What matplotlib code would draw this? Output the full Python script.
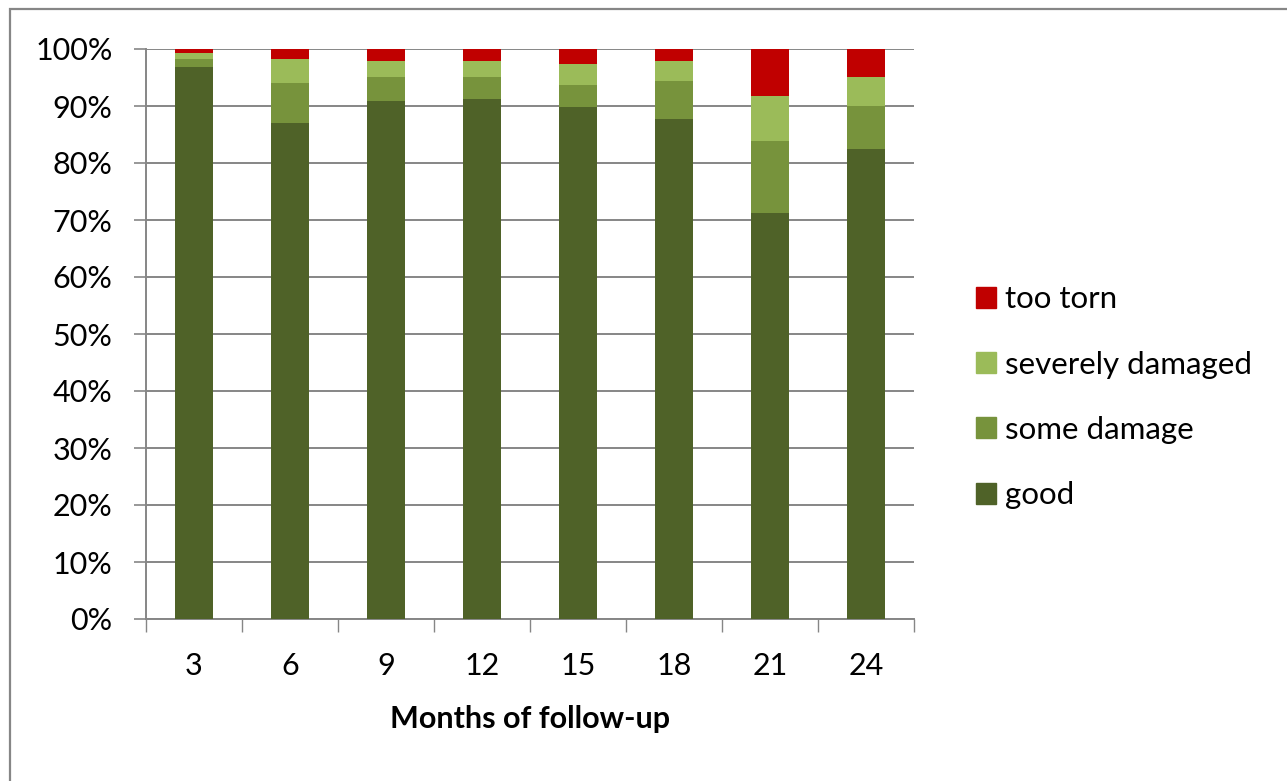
import numpy as np
import matplotlib.pyplot as plt
from matplotlib.patches import Rectangle, Patch
from matplotlib.ticker import FuncFormatter

plt.rcParams['font.family'] = ['Lato', 'DejaVu Sans']

months = ['3', '6', '9', '12', '15', '18', '21', '24']
good = [96.9, 87.1, 90.9, 91.3, 89.9, 87.8, 71.3, 82.5]
some_damage = [1.4, 7.0, 4.2, 3.8, 3.8, 6.5, 12.6, 7.55]
severely_damaged = [1.05, 4.2, 2.8, 2.8, 3.7, 3.6, 7.9, 5.05]
too_torn = [0.65, 1.7, 2.1, 2.1, 2.6, 2.1, 8.2, 4.9]

series = [('good', good, '#4F6228'),
          ('some damage', some_damage, '#77933C'),
          ('severely damaged', severely_damaged, '#9BBB59'),
          ('too torn', too_torn, '#C00000')]

W, H = 1287, 781
fig = plt.figure(figsize=(W / 100, H / 100), dpi=100)

# chart-area frame
fig.patches.append(Rectangle((10 / W, -0.05), 1.2, 1.05 - 9 / H, transform=fig.transFigure,
                             fill=False, edgecolor='#868686', linewidth=1.6))

ax = fig.add_axes([146 / W, (H - 619) / H, 768 / W, 570 / H])
x = np.arange(len(months))
bottom = np.zeros(len(months))
for name, vals, col in series:
    ax.bar(x, vals, 0.4, bottom=bottom, color=col, label=name, zorder=3)
    bottom += np.array(vals)

ax.set_xlim(-0.5, len(months) - 0.5)
ax.set_ylim(0, 100)
ax.set_yticks(np.arange(0, 101, 10))
ax.yaxis.set_major_formatter(FuncFormatter(lambda v, p: f'{v:.0f}%'))
ax.grid(axis='y', color='#868686', linewidth=1.4, zorder=0)
ax.set_xticks(x)
ax.set_xticklabels(months)
ax.set_xticks(np.arange(-0.5, len(months)), minor=True)
ax.tick_params(axis='x', which='major', length=0, pad=24, labelsize=22)
ax.tick_params(axis='x', which='minor', length=9, width=1, color='#868686')
ax.tick_params(axis='y', length=9, width=1.2, color='#868686', pad=15, labelsize=22)

for s in ['top', 'right']:
    ax.spines[s].set_visible(False)
for s in ['left', 'bottom']:
    ax.spines[s].set_color('#868686')
    ax.spines[s].set_linewidth(1.4)

ax.set_xlabel('Months of follow-up', fontsize=22, fontweight='bold', labelpad=18)

handles = [Patch(color=c, label=n) for n, v, c in series][::-1]
fig.legend(handles=handles, loc='upper left', bbox_to_anchor=(963 / W, 1 - 273 / H),
           frameon=False, fontsize=22.5, handlelength=0.65, handleheight=0.65,
           handletextpad=0.3, labelspacing=1.19, borderaxespad=0)

fig.savefig('out.png', dpi=100)
